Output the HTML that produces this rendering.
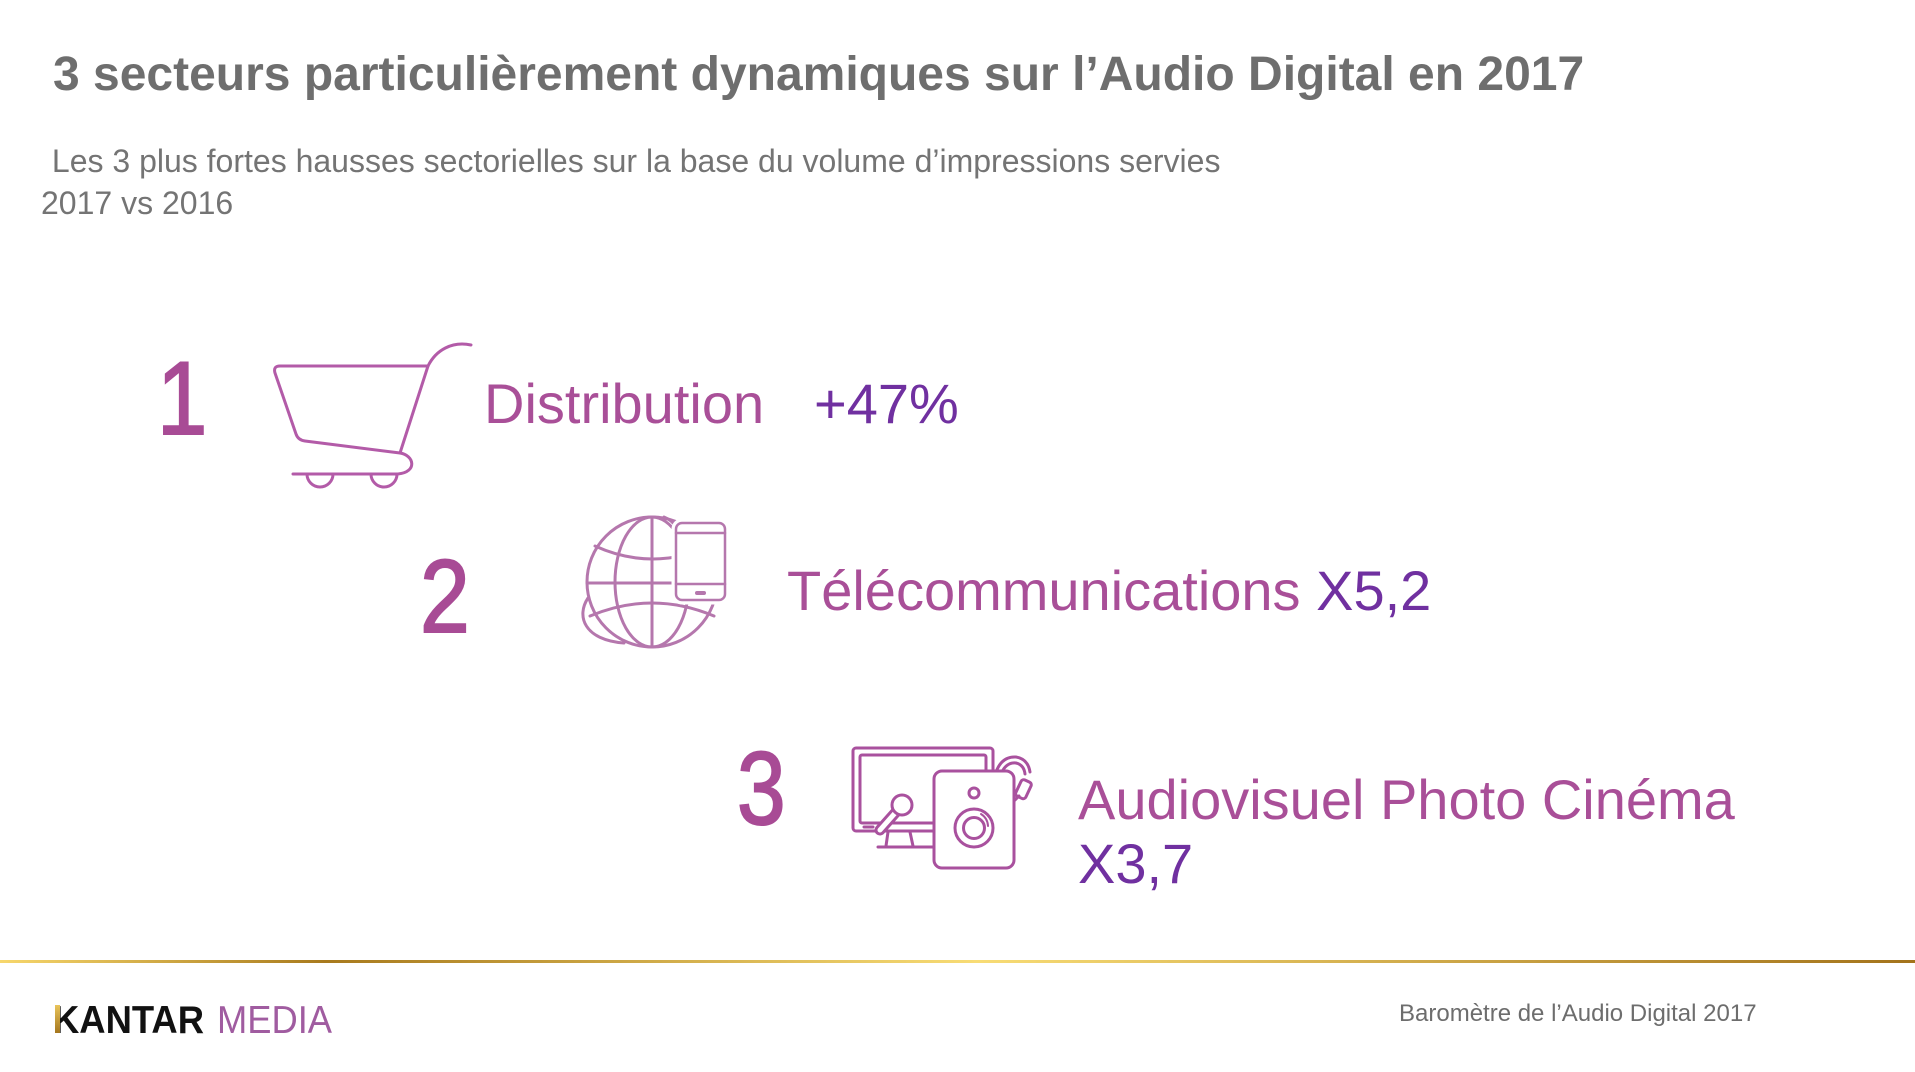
<!DOCTYPE html>
<html>
<head>
<meta charset="utf-8">
<style>
html,body{margin:0;padding:0;background:#fff;}
body{width:1915px;height:1072px;overflow:hidden;}
svg{display:block;}
text{font-family:"Liberation Sans",Arial,sans-serif;}
</style>
</head>
<body>
<svg width="1915" height="1072" viewBox="0 0 1915 1072" xmlns="http://www.w3.org/2000/svg">
  <defs>
    <linearGradient id="gold" x1="0" y1="0" x2="1915" y2="0" gradientUnits="userSpaceOnUse">
      <stop offset="0" stop-color="#f7d76c"/>
      <stop offset="0.17" stop-color="#a87a1d"/>
      <stop offset="0.51" stop-color="#f8dc75"/>
      <stop offset="1" stop-color="#a3731b"/>
    </linearGradient>
    <linearGradient id="kgold" x1="0" y1="0" x2="0" y2="1">
      <stop offset="0" stop-color="#e9c45a"/>
      <stop offset="1" stop-color="#a4761e"/>
    </linearGradient>
  </defs>

  <!-- Title -->
  <text x="53" y="90" font-size="48" font-weight="bold" fill="#6e6e6e">3 secteurs particulièrement dynamiques sur l’Audio Digital en 2017</text>
  <!-- Subtitle -->
  <text x="43" y="172" font-size="32" fill="#747474" xml:space="preserve"> Les 3 plus fortes hausses sectorielles sur la base du volume d’impressions servies</text>
  <text x="41" y="214" font-size="32" fill="#747474">2017 vs 2016</text>

  <!-- Digits -->
  <g fill="#a84b95" stroke="#a84b95" stroke-width="2" font-size="104">
    <text transform="translate(157,434) scale(0.87,1)">1</text>
    <text transform="translate(420,632) scale(0.86,1)">2</text>
    <text transform="translate(737,824) scale(0.84,1)">3</text>
  </g>

  <!-- Cart icon -->
  <g fill="none" stroke="#b35ba8" stroke-width="3" stroke-linecap="round" stroke-linejoin="round">
    <path d="M428,366 C436,350 452,341 471,345"/>
    <path d="M428,366 L280,366 Q273,366 275,373 L296,434 Q298,440 305,441 L400,453"/>
    <path d="M428,366 L400,453"/>
    <path d="M400,453 C414,455 418,472 398,474 L293,474"/>
    <path d="M307,474 A13,13 0 0 0 333,474"/>
    <path d="M371,474 A13,13 0 0 0 397,474"/>
  </g>

  <!-- Globe + phone icon -->
  <g fill="none" stroke="#b577ad" stroke-width="3" stroke-linecap="round">
    <circle cx="652" cy="582" r="65"/>
    <ellipse cx="652" cy="582" rx="37" ry="65"/>
    <line x1="652" y1="517" x2="652" y2="647"/>
    <line x1="587" y1="583" x2="717" y2="583"/>
    <path d="M595,546 Q652,572 712,546"/>
    <path d="M590,616 Q652,590 714,616"/>
    <path d="M588,598 C576,616 584,640 624,643"/>
    <path d="M664,517 Q672,520 677,528"/>
    <rect x="676" y="523" width="49" height="77" rx="6" fill="#fff" stroke="#fff" stroke-width="9"/>
    <rect x="676" y="523" width="49" height="77" rx="6" fill="#fff" stroke-width="2.5"/>
    <line x1="676" y1="533" x2="725" y2="533" stroke-width="2.5"/>
    <line x1="676" y1="584" x2="725" y2="584" stroke-width="2.5"/>
    <line x1="697" y1="593" x2="704" y2="593" stroke-width="4"/>
  </g>

  <!-- Audiovisual icon -->
  <g fill="none" stroke="#a9519e" stroke-width="3" stroke-linecap="round" stroke-linejoin="round">
    <!-- headphones behind -->
    <path d="M996,772 Q1002,756 1016,757 Q1028,759 1030,772"/>
    <path d="M1001,774 Q1006,762 1016,763 Q1024,765 1025,774"/>
    <rect x="1018" y="780" width="11" height="18" rx="3" transform="rotate(25 1023 789)"/>
    <line x1="1014" y1="801" x2="1019" y2="796"/>
    <!-- monitor -->
    <rect x="853" y="748" width="140" height="83" rx="3"/>
    <rect x="860" y="755" width="126" height="68" rx="2"/>
    <line x1="864" y1="827" x2="873" y2="827"/>
    <path d="M888,832 L886,846"/>
    <path d="M910,832 L913,846"/>
    <path d="M878,847 L934,847"/>
    <!-- mic -->
    <line x1="896" y1="812" x2="880" y2="830" stroke-width="11"/>
    <line x1="896" y1="812" x2="880" y2="830" stroke="#fff" stroke-width="5"/>
    <circle cx="902" cy="805" r="10" fill="#fff"/>
    <!-- speaker -->
    <rect x="934" y="771" width="80" height="97" rx="8" fill="#fff"/>
    <circle cx="974" cy="793" r="5"/>
    <circle cx="974" cy="828" r="19"/>
    <circle cx="974" cy="828" r="10.5"/>
    <path d="M981,814 A15,15 0 0 1 988,826" stroke-width="2"/>
  </g>

  <!-- Labels -->
  <text x="484" y="423" font-size="56" fill="#a94f98">Distribution</text>
  <text x="814" y="423" font-size="56" fill="#7030a0">+47%</text>
  <text x="787" y="610" font-size="56" fill="#a94f98">Télécommunications <tspan fill="#7030a0">X5,2</tspan></text>
  <text x="1078" y="819" font-size="56" fill="#a94f98">Audiovisuel Photo Cinéma</text>
  <text x="1078" y="883" font-size="56" fill="#7030a0">X3,7</text>

  <!-- Gold line -->
  <rect x="0" y="960" width="1915" height="3" fill="url(#gold)"/>

  <!-- Logo -->
  <text x="53" y="1033" font-size="39" font-weight="bold" fill="#111" textLength="151" lengthAdjust="spacingAndGlyphs">KANTAR</text>
  <rect x="55" y="1005" width="5" height="28" fill="url(#kgold)"/>
  <text x="217" y="1033" font-size="39" fill="#a05ca0" textLength="115" lengthAdjust="spacingAndGlyphs">MEDIA</text>

  <!-- Footer -->
  <text x="1399" y="1021" font-size="24" fill="#6d6d6d">Baromètre de l’Audio Digital 2017</text>
</svg>
</body>
</html>
